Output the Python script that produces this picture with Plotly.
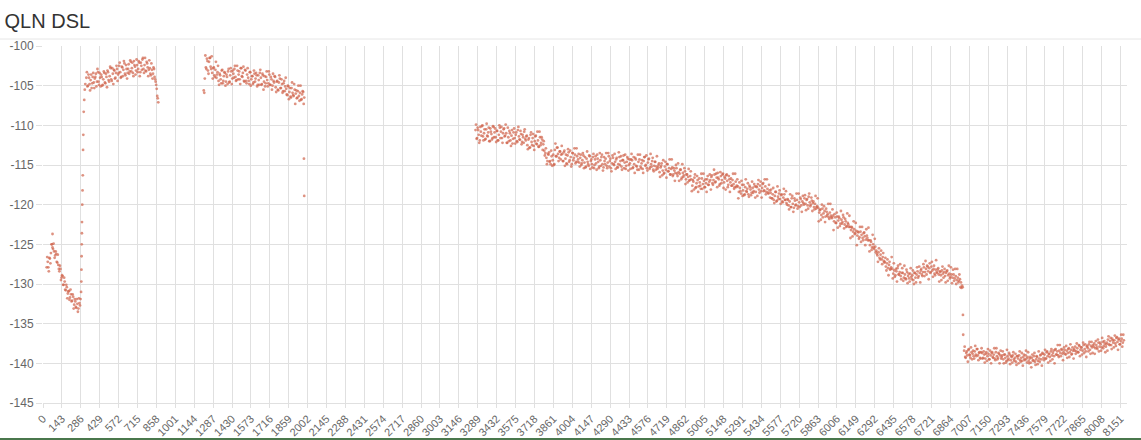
import plotly.graph_objects as go

# =============================================================================
# DATA  (QLN per tone, dBm/Hz)
# two interleaved readings per 8-tone slot: *_a near the band centre, *_b toward its edges
# =============================================================================
STEP = 8

seg_a_start = 28
seg_a = [-127.9, -127.2, -128.4, -126.8, -126.1, -125.0, -125.6, -125.9, -126.4, -126.2,
         -127.3, -127.6, -128.4, -128.1, -129.2, -129.0, -130.1, -129.7, -130.8, -130.4,
         -131.2, -130.9, -131.7, -131.3, -132.1, -131.6, -132.6, -132.2, -133.0, -132.5,
         -133.1, -132.4, -131.9]
seg_a2_start = 32
seg_a2 = [-126.6, -127.9, -126.7, -127.4, -125.0, -125.4, -124.9, -126.7, -125.9, -127.2,
          -126.3, -128.1, -127.7, -129.5, -128.9, -130.1, -129.2, -130.7, -130.1, -131.8,
          -130.9, -132.0, -130.7, -132.2, -131.3, -133.1, -131.9, -132.9, -131.9, -133.5,
          -131.8, -132.7]

# steep climb between the first two bands
rise_idx = [288, 290, 291, 292, 293, 294, 295, 297, 299, 301, 303, 305, 308, 312, 316, 320]
rise_val = [-131.0, -129.7, -128.2, -126.5, -125.0, -123.6, -122.2, -120.0, -118.2, -116.3,
            -113.1, -111.2, -108.3, -106.8, -105.5, -104.8]

seg_b_start = 328
seg_b = [-104.0, -105.1, -103.6, -104.8, -104.3, -105.3, -103.9, -104.6, -104.1, -103.5,
         -104.5, -103.3, -104.9, -104.0, -103.6, -105.0, -104.2, -103.4, -104.7, -103.9,
         -103.1, -104.3, -103.8, -102.8, -104.4, -103.5, -103.0, -104.1, -103.4, -102.9,
         -103.6, -102.5, -103.3, -103.9, -102.7, -103.0, -102.2, -103.7, -102.9, -103.4,
         -102.3, -103.2, -102.0, -102.8, -103.4, -101.9, -102.6, -103.1, -102.4, -102.9,
         -102.1, -103.3, -102.5, -101.7, -102.9, -102.4, -103.1, -102.0, -102.7, -103.0,
         -102.8, -103.7, -103.0, -103.5, -102.9, -104.2, -104.9, -106.3, -107.1]
seg_b2_start = 332
seg_b2 = [-103.3, -105.0, -104.0, -105.6, -103.6, -104.7, -103.4, -105.3, -103.9, -105.1,
          -102.9, -104.5, -103.4, -105.1, -103.9, -104.9, -103.2, -104.6, -103.5, -105.2,
          -103.3, -104.5, -102.6, -104.2, -102.8, -104.8, -103.1, -104.0, -102.5, -104.4,
          -103.4, -102.1, -104.0, -102.6, -103.8, -101.9, -103.5, -102.4, -104.1, -102.9,
          -103.5, -101.8, -103.2, -102.1, -103.8, -102.4, -103.6, -101.7, -103.3, -101.9,
          -103.8, -102.1, -103.0, -101.5, -103.4, -101.5, -103.2, -102.2, -103.8, -101.8,
          -103.5, -102.2, -104.1, -102.7, -103.9, -104.5, -105.4, -106.6]

seg_c_start = 1216
seg_c = [-105.6, -104.1,
         -102.7, -101.6, -103.1, -102.0, -101.5, -102.9, -103.4,
         -102.8, -103.7, -103.0, -104.0, -103.3,
         -104.4, -103.5, -104.2, -103.1, -104.7, -103.8, -103.4, -104.5, -103.9, -103.2, -104.6, -103.7,
         -103.2, -104.1, -103.5, -102.9, -103.9, -104.3, -103.1, -103.6, -104.2, -102.8, -103.8, -103.4,
         -104.4, -103.0,
         -104.4, -103.6, -104.0, -104.8, -103.3, -104.2, -103.8, -104.6, -103.5, -104.1, -103.7, -104.9,
         -104.3, -103.4,
         -104.0, -104.8, -103.7, -104.5, -105.1, -103.9, -104.3, -104.7, -103.6, -104.9, -104.2, -105.0,
         -104.4, -103.8,
         -105.2, -104.5, -105.5, -104.6, -104.1, -105.3, -104.8, -105.7, -104.4, -105.1,
         -105.4, -106.2, -105.1, -105.8, -106.4, -105.3, -105.9, -106.3, -105.5,
         -106.0, -106.6, -105.7, -106.3, -105.9, -106.8, -106.1, -105.8, -106.5]
seg_c2_start = 1220
seg_c2 = [-105.9,
          -101.2, -102.9, -101.9, -103.5, -101.5, -102.6, -101.3,
          -104.1, -102.7, -103.9, -102.0, -103.6, -102.5,
          -104.9, -103.7, -104.7, -103.0, -104.4, -103.3, -105.0, -103.6, -104.8, -102.9, -104.5,
          -102.8, -104.8, -103.1, -104.0, -102.5, -104.4, -102.5, -104.2, -103.2, -104.8, -102.8,
          -103.9, -102.6, -104.5, -103.1,
          -104.7, -102.8, -104.4, -103.3, -105.0, -103.8, -104.8, -103.1, -104.5, -103.4, -105.1,
          -103.7, -104.9, -103.0,
          -104.9, -103.5, -105.5, -103.8, -104.7, -103.2, -105.1, -103.2, -104.9, -103.9, -105.5,
          -103.5, -104.6,
          -103.9, -105.8, -104.4, -105.6, -103.7, -105.3, -104.2, -105.9, -104.7, -105.7, -104.0,
          -106.1, -105.0, -106.7, -105.3, -106.5, -104.6, -106.2, -104.8,
          -107.3, -105.6, -106.5, -105.0, -106.9, -105.0, -106.7, -105.7, -107.3]

seg_d_start = 3272
seg_d = [-110.6, -111.7, -110.3, -111.2, -111.9, -110.8, -110.1, -111.4, -111.0, -111.8,
         -110.5, -111.3, -110.9, -112.0, -110.4, -111.1, -111.6, -110.2, -110.9, -111.5,
         -110.7, -111.9, -111.2, -110.3, -110.8, -111.6, -111.0, -110.4, -111.3,
         -111.0, -112.2, -111.5, -110.7, -111.9, -111.3, -112.3, -110.9, -111.6, -111.2,
         -112.0, -110.6, -111.4, -111.8, -111.1, -112.1, -111.5, -110.8, -111.7,
         -111.4, -112.5, -111.8, -112.8, -111.2, -112.1, -111.6, -112.6, -112.0, -111.3,
         -112.4, -111.9, -112.7, -111.5, -112.2, -111.8,
         -112.4, -113.2, -113.5, -114.1, -114.5,
         -113.7, -114.6, -114.9, -113.9, -114.4, -115.0,
         -113.1, -113.9, -112.8, -113.6, -114.1, -113.3, -113.7,
         -113.6, -114.5, -113.2, -114.2, -114.8, -113.8, -113.4, -114.4, -114.0, -114.9,
         -113.5, -114.1, -113.7, -114.6, -113.9, -114.3, -114.7,
         -114.1, -115.0, -114.4, -113.8, -114.7, -115.3, -114.2, -114.6, -115.1, -113.9,
         -114.5, -114.9, -114.0, -115.4, -114.3, -114.8, -113.7, -114.6, -115.2, -114.4,
         -114.0, -114.9, -115.3, -114.5,
         -114.2, -115.1, -114.7, -113.9, -114.5, -115.4, -114.8, -114.1, -115.0, -114.6,
         -114.3, -115.3, -114.9, -114.0, -114.5, -115.2, -114.4, -113.8, -114.7, -115.5,
         -114.6, -114.2, -115.0, -114.8, -114.3,
         -114.4, -115.3, -114.9, -114.1, -115.1, -115.6, -114.6, -114.3, -115.2, -114.8,
         -115.5, -114.5, -114.0, -115.0, -115.4, -114.7, -114.2, -115.3, -114.9, -114.5,
         -115.6, -115.1, -114.6, -115.2, -115.5,
         -115.0, -115.9, -115.3, -114.8, -115.7, -116.1, -115.2, -115.6, -114.9, -115.8,
         -115.4, -116.2, -115.5,
         -115.3, -116.2, -115.7, -116.0, -115.4, -116.4, -115.9, -116.1, -115.6, -116.6,
         -116.0, -116.3, -115.8, -116.8, -116.2, -116.5, -117.0, -116.4,
         -116.8, -117.6, -117.1, -116.6, -117.9, -117.3, -116.9, -117.7, -117.2, -118.0,
         -116.7, -117.4, -117.0, -117.8, -117.3, -116.8, -117.5, -117.1, -116.9,
         -116.5, -117.3, -116.9, -116.2, -117.1, -116.6, -116.0, -116.8, -117.4, -116.4,
         -116.9, -116.1, -117.2, -116.7, -116.3, -117.0, -117.5, -116.8, -117.2, -117.6,
         -116.9, -117.4, -117.8, -117.1, -117.6,
         -117.7, -118.4, -117.9, -118.6, -117.5, -118.2, -118.8, -117.8, -118.3, -118.0,
         -118.7, -117.6, -118.1, -118.5, -117.9, -118.3, -117.7, -118.4, -117.8,
         -117.4, -118.1, -117.6, -118.3, -117.9, -117.3, -118.2, -117.7, -118.4, -118.0,
         -118.6, -118.2,
         -118.5, -119.2, -118.7, -119.4, -118.9, -118.4, -119.5, -119.0, -118.6, -119.3,
         -118.8, -119.6, -119.1, -118.7, -119.4, -119.8,
         -119.3, -120.1, -119.6, -120.3, -119.2, -119.9, -120.4, -119.5, -120.0, -119.4,
         -120.2, -119.7, -119.1, -120.1, -119.6, -119.8,
         -119.2, -119.9, -119.4, -120.1, -119.0, -119.7, -120.0, -119.5, -119.8, -120.3,
         -119.9, -120.5, -120.2,
         -120.4, -121.0, -120.6, -121.3, -120.5, -121.1, -120.8, -121.5, -120.9, -121.2,
         -121.6, -121.0, -121.4, -121.7,
         -121.4, -122.1, -121.6, -122.3, -121.5, -122.0, -121.7, -122.4, -121.9, -122.2,
         -121.6, -122.5, -122.1, -122.7, -122.3, -122.8,
         -122.8, -123.2, -122.9, -123.4, -123.1, -123.6,
         -123.3, -123.9, -123.5, -124.1, -123.4, -123.8, -124.2, -123.6, -124.0, -124.4,
         -123.9, -124.5,
         -124.5, -125.1, -124.7, -125.4, -125.0, -125.6, -125.3,
         -125.8, -126.4, -126.0, -126.7, -126.3, -126.9, -126.6, -127.1,
         -127.2, -127.8, -127.4, -128.0, -127.6, -128.2, -127.9,
         -128.1, -128.7, -128.3, -128.9, -128.4, -128.0, -128.8, -128.5, -129.0, -128.6,
         -128.6, -129.2, -128.8, -129.4, -128.5, -129.0, -129.3, -128.7, -129.1, -128.9,
         -129.5, -128.6, -129.2, -128.8, -128.4, -129.0, -128.6, -128.3, -128.8, -128.5,
         -127.9, -128.5, -128.1, -127.7, -128.4, -128.0, -128.6, -127.8, -128.3, -128.1,
         -128.7, -128.2, -128.5,
         -128.2, -128.8, -128.4, -128.9, -128.3, -128.7, -128.5, -129.0, -128.6, -128.3,
         -128.9, -128.7, -129.1, -128.8, -129.2,
         -128.8, -129.3, -129.0, -129.5, -129.2, -129.6, -129.4,
         -129.8, -130.2]
seg_d2_start = 3276
seg_d2 = [-109.9, -111.6, -110.6, -112.2, -110.2, -111.3, -110.0, -111.9, -110.5, -111.7,
          -109.8, -111.4, -110.3, -112.0, -110.8, -111.8, -110.1, -111.5, -110.4, -112.1,
          -110.7, -111.9, -110.0, -111.6, -110.2, -112.2, -110.5, -111.4, -109.9,
          -112.2, -110.3, -112.0, -111.0, -112.6, -110.6, -111.7, -110.4, -112.3, -110.9,
          -112.1, -110.2, -111.8, -110.7, -112.4, -111.2, -112.2, -110.5, -111.9,
          -111.3, -113.0, -111.6, -112.8, -110.9, -112.5, -111.1, -113.1, -111.4, -112.3,
          -110.8, -112.7, -110.8, -112.5, -111.5, -113.1,
          -112.0, -113.8, -112.9, -114.9, -113.6,
          -113.4, -114.5, -113.2, -115.1, -113.7, -114.9,
          -112.3, -113.9, -112.8, -114.5, -113.3, -114.3, -112.6,
          -114.5, -113.4, -115.1, -113.7, -114.9, -113.0, -114.6, -113.2, -115.2, -113.5,
          -114.4, -112.9, -114.8, -112.9, -114.6, -113.6, -115.2,
          -113.7, -114.8, -113.5, -115.4, -114.0, -115.2, -113.3, -114.9, -113.8, -115.5,
          -114.3, -115.3, -113.6, -115.0, -113.9, -115.6, -114.2, -115.4, -113.5, -115.1,
          -113.7, -115.7, -114.0, -114.9,
          -113.5, -115.4, -113.5, -115.2, -114.2, -115.8, -113.8, -114.9, -113.6, -115.5,
          -114.1, -115.3, -113.4, -115.0, -113.9, -115.6, -114.4, -115.4, -113.7, -115.1,
          -114.0, -115.7, -114.3, -115.5, -113.6,
          -115.4, -114.0, -116.0, -114.3, -115.2, -113.7, -115.6, -113.7, -115.4, -114.4,
          -116.0, -114.0, -115.1, -113.8, -115.7, -114.3, -115.5, -113.6, -115.2, -114.1,
          -115.8, -114.6, -115.6, -113.9, -115.3,
          -114.8, -116.5, -115.1, -116.3, -114.4, -116.0, -114.6, -116.6, -114.9, -115.8,
          -114.3, -116.2, -114.3,
          -116.4, -115.4, -117.0, -115.0, -116.1, -114.8, -117.0, -115.6, -116.8, -114.9,
          -116.5, -115.4, -117.4, -116.2, -117.2, -115.5, -116.9, -115.8,
          -118.3, -116.9, -118.1, -116.2, -117.8, -116.4, -118.4, -116.7, -117.6, -116.1,
          -118.0, -116.1, -117.8, -116.8, -118.4, -116.4, -117.5, -116.2, -118.1,
          -116.3, -117.5, -115.6, -117.2, -116.1, -117.8, -116.6, -117.6, -115.9, -117.3,
          -116.2, -117.9, -116.5, -118.1, -116.2, -117.8, -116.4, -118.4, -116.7, -117.6,
          -116.1, -118.0, -116.1, -117.8, -116.8,
          -119.2, -117.2, -118.3, -117.0, -118.9, -117.5, -118.7, -116.8, -118.4, -117.3,
          -119.0, -117.8, -118.8, -117.1, -118.5, -117.4, -119.1, -117.7, -118.9,
          -116.9, -118.5, -117.1, -119.1, -117.4, -118.3, -116.8, -118.7, -116.8, -118.5,
          -117.5, -119.1,
          -118.1, -119.2, -117.9, -119.8, -118.4, -119.6, -117.7, -119.3, -118.2, -119.9,
          -118.7, -119.7, -118.0, -119.4, -118.3, -120.0,
          -119.4, -120.6, -118.7, -120.3, -118.9, -120.9, -119.2, -120.1, -118.6, -120.5,
          -118.6, -120.3, -119.3, -120.9, -118.9, -120.0,
          -118.8, -120.7, -119.3, -120.5, -118.6, -120.2, -119.1, -120.8, -119.6, -120.6,
          -118.9, -120.3, -119.2,
          -122.1, -120.7, -121.9, -120.0, -121.6, -120.2, -122.2, -120.5, -121.4, -119.9,
          -121.8, -119.9, -121.6, -120.6,
          -123.2, -121.2, -122.3, -121.0, -122.9, -121.5, -122.7, -120.8, -122.4, -121.3,
          -123.0, -121.8, -122.8, -121.1, -122.5, -121.4,
          -124.2, -122.8, -124.0, -122.1, -123.7, -122.3,
          -125.1, -123.4, -124.3, -122.8, -124.7, -122.8, -124.5, -123.5, -125.1, -123.1,
          -124.2, -122.9,
          -125.9, -124.5, -125.7, -123.8, -125.4, -124.3, -126.0,
          -126.2, -127.2, -125.5, -126.9, -125.8, -127.5, -126.1, -127.3,
          -126.7, -128.3, -126.9, -128.9, -127.2, -128.1, -126.6,
          -129.3, -127.4, -129.1, -128.1, -129.7, -127.7, -128.8, -127.5, -129.4, -128.0,
          -129.6, -127.7, -129.3, -128.2, -129.9, -128.7, -129.7, -128.0, -129.4, -128.3,
          -130.0, -128.6, -129.8, -127.9, -129.2, -127.8, -129.8, -128.1, -129.0, -127.5,
          -129.0, -127.1, -128.8, -127.8, -129.4, -127.4, -128.5, -127.2, -129.1, -127.7,
          -128.9, -127.0, -128.6,
          -128.0, -129.7, -128.5, -129.5, -127.8, -129.2, -128.1, -129.8, -128.4, -129.6,
          -127.7, -129.3, -127.9, -129.9, -128.2,
          -129.6, -128.1, -130.0, -128.1, -129.8, -128.8, -130.4,
          -130.5]

seg_e_start = 6968
seg_e = [-138.4, -139.2, -138.7, -139.0, -138.3, -138.9, -139.3, -138.6, -138.8, -139.1,
         -138.5, -138.9, -138.2, -139.0, -138.7, -139.3, -138.6,
         -138.7, -139.3, -138.9, -139.4, -138.6, -139.1, -138.8, -139.5, -139.0, -138.7,
         -139.2, -138.9, -139.4, -138.6, -139.1, -139.3, -138.8, -139.0, -139.4,
         -139.0, -139.5, -138.9, -139.3, -139.7, -139.1, -139.4, -138.9, -139.6, -139.2,
         -139.0, -139.5, -139.3, -139.8, -139.1, -139.4, -139.0, -139.6, -139.3, -139.7,
         -139.2, -139.5, -139.0, -139.4,
         -139.2, -139.7, -139.4, -139.9, -139.3, -139.6, -139.1, -139.8, -139.5, -139.2,
         -139.7, -139.4, -139.0, -139.5,
         -138.7, -139.3, -138.9, -139.4, -138.6, -139.1, -138.8, -139.2, -138.5, -139.0,
         -138.7, -139.1,
         -138.3, -138.9, -138.5, -139.0, -138.4, -138.7, -138.2, -138.8, -138.6, -138.3,
         -138.9, -138.4, -138.7, -138.1, -138.6, -138.3, -138.8, -138.4, -138.2,
         -137.9, -138.5, -138.1, -138.6, -137.8, -138.3, -138.0, -138.4, -137.7, -138.2,
         -138.5, -137.9, -138.1, -137.6, -138.3, -137.8, -138.0, -137.7,
         -137.5, -138.1, -137.7, -138.2, -137.4, -137.9, -137.6, -138.0, -137.3, -137.8,
         -137.5, -137.9, -137.4,
         -137.0, -137.6, -137.2, -137.7, -136.9, -137.4, -137.1, -137.5, -136.8, -137.3,
         -137.0, -137.6, -137.2, -136.9, -137.4, -137.1]
seg_e2_start = 6972
seg_e2 = [-137.9, -139.3, -138.5, -139.8, -138.2, -139.0, -138.0, -139.5, -138.4, -139.4,
          -137.8, -139.1, -138.2, -139.6, -138.6, -139.4, -138.1,
          -139.4, -138.5, -139.9, -138.8, -139.7, -138.2, -139.5, -138.4, -140.0, -138.6,
          -139.3, -138.1, -139.6, -138.1, -139.5, -138.7, -140.0, -138.4, -139.2,
          -138.5, -140.0, -138.9, -139.9, -138.3, -139.6, -138.7, -140.1, -139.1, -139.9,
          -138.6, -139.7, -138.8, -140.2, -139.1, -140.0, -138.5, -139.8, -138.7, -140.3,
          -138.9, -139.6, -138.4, -139.9,
          -138.6, -140.0, -139.2, -140.5, -138.9, -139.7, -138.7, -140.2, -139.1, -140.1,
          -138.5, -139.8, -138.9, -140.3,
          -138.8, -139.6, -138.3, -139.4, -138.5, -139.9, -138.8, -139.7, -138.2, -139.5,
          -138.4, -140.0,
          -138.2, -138.9, -137.7, -139.2, -137.7, -139.1, -138.3, -139.6, -138.0, -138.8,
          -137.8, -139.3, -138.2, -139.2, -137.6, -138.9, -138.0, -139.4, -138.4,
          -138.8, -137.5, -138.6, -137.7, -139.1, -138.0, -138.9, -137.4, -138.7, -137.6,
          -139.2, -137.8, -138.5, -137.3, -138.8, -137.3, -138.7, -137.9,
          -138.8, -137.2, -138.0, -137.0, -138.5, -137.4, -138.4, -136.8, -138.1, -137.2,
          -138.6, -137.6, -138.4,
          -136.6, -137.7, -136.8, -138.2, -137.1, -138.0, -136.5, -137.8, -136.7, -138.3,
          -136.9, -137.6, -136.4, -137.9, -136.4]

# isolated readings
stray_idx = [72, 1974, 1976, 6957, 6959, 6961]
stray_val = [-123.7, -114.2, -118.9, -130.4, -133.9, -136.4]

x_ticks = [0, 143, 286, 429, 572, 715, 858, 1001, 1144, 1287, 1430, 1573, 1716, 1859,
           2002, 2145, 2288, 2431, 2574, 2717, 2860, 3003, 3146, 3289, 3432, 3575, 3718,
           3861, 4004, 4147, 4290, 4433, 4576, 4719, 4862, 5005, 5148, 5291, 5434, 5577,
           5720, 5863, 6006, 6149, 6292, 6435, 6578, 6721, 6864, 7007, 7150, 7293, 7436,
           7579, 7722, 7865, 8008, 8151]
y_ticks = [-145, -140, -135, -130, -125, -120, -115, -110, -105, -100]

# =============================================================================
# ASSEMBLE
# =============================================================================
xs, ys = [], []
for start, vals in [(seg_a_start, seg_a), (seg_a2_start, seg_a2),
                    (seg_b_start, seg_b), (seg_b2_start, seg_b2),
                    (seg_c_start, seg_c), (seg_c2_start, seg_c2),
                    (seg_d_start, seg_d), (seg_d2_start, seg_d2),
                    (seg_e_start, seg_e), (seg_e2_start, seg_e2)]:
    xs += [start + STEP * i for i in range(len(vals))]
    ys += vals
xs += rise_idx + stray_idx
ys += rise_val + stray_val

GRID = "#e0e0e0"
FONT = "Liberation Sans, Arial, sans-serif"

fig = go.Figure(go.Scatter(
    x=xs, y=ys, mode="markers",
    marker=dict(size=2.8, color="#d0644c", opacity=0.7, line=dict(width=0)),
    hovertemplate="%{x}: %{y}<extra></extra>",
    showlegend=False,
))

# header rule under the title and page border at the bottom
fig.add_shape(type="line", xref="paper", yref="paper",
              x0=-43 / 1084, x1=1 + 14 / 1084, y0=(403 - 39) / 357, y1=(403 - 39) / 357,
              line=dict(color="#e6e6e6", width=1))
fig.add_shape(type="line", xref="paper", yref="paper",
              x0=-43 / 1084, x1=1 + 14 / 1084, y0=(403 - 439) / 357, y1=(403 - 439) / 357,
              line=dict(color="#4a774c", width=2))

fig.update_layout(
    width=1141, height=440,
    margin=dict(l=43, r=14, t=46, b=37),
    paper_bgcolor="white", plot_bgcolor="white",
    font=dict(family=FONT, color="#666", size=12),
    title=dict(text="QLN DSL", x=0.004, xref="container", xanchor="left",
               y=1 - 14 / 440, yref="container", yanchor="top",
               font=dict(size=20, color="#333", family=FONT)),
    xaxis=dict(range=[0, 8200], tickmode="array", tickvals=x_ticks,
               ticktext=[str(t) for t in x_ticks], tickangle=-45,
               tickfont=dict(size=11, color="#666"), automargin=False,
               showgrid=True, gridcolor=GRID, gridwidth=1, zeroline=False,
               ticks="outside", ticklen=4, tickcolor=GRID,
               showline=True, linecolor=GRID, linewidth=1),
    yaxis=dict(range=[-145, -100], tickmode="array", tickvals=y_ticks,
               ticktext=[str(t) for t in y_ticks], automargin=False,
               tickfont=dict(size=12, color="#666"),
               showgrid=True, gridcolor=GRID, gridwidth=1, zeroline=False,
               ticks="outside", ticklen=6, tickcolor=GRID, showline=False),
)

# the page body's default 8px margin would push the chart off its 1141x440 frame
fig.write_html("out.html", config={"displayModeBar": False},
               post_script="document.body.style.margin='0';")
